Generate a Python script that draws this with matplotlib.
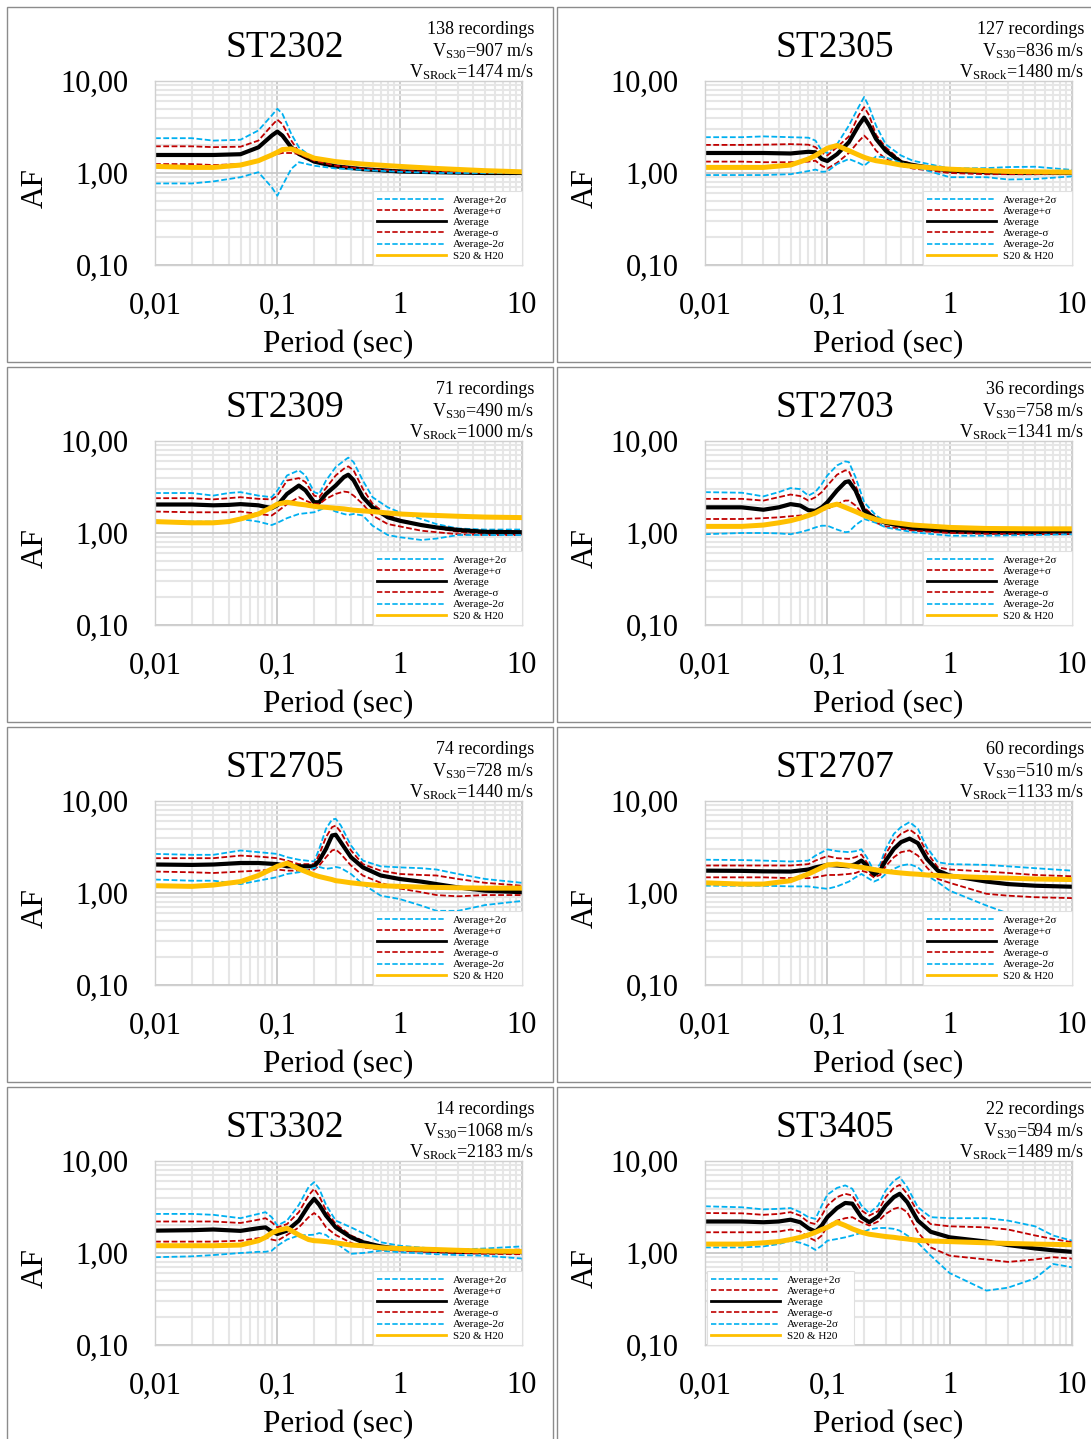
import numpy as np
import matplotlib.pyplot as plt
from matplotlib.patches import Rectangle
from matplotlib.lines import Line2D
from matplotlib.ticker import LogLocator, NullFormatter

plt.rcParams['font.family'] = ['Liberation Serif', 'DejaVu Serif']
plt.rcParams['mathtext.fontset'] = 'custom'
plt.rcParams['mathtext.rm'] = 'Liberation Serif'
plt.rcParams['mathtext.it'] = 'Liberation Serif:italic'

W, H = 1091, 1439

stations = ['ST2302', 'ST2305', 'ST2309', 'ST2703', 'ST2705', 'ST2707', 'ST3302', 'ST3405']
n_recordings = [138, 127, 71, 36, 74, 60, 14, 22]
vs30 = [907, 836, 490, 758, 728, 510, 1068, 594]
vsrock = [1474, 1480, 1000, 1341, 1440, 1133, 2183, 1489]

# ST2302
t_2302 = [0.01, 0.02, 0.03, 0.05, 0.07, 0.09, 0.1, 0.11, 0.13, 0.15, 0.2, 0.3, 0.5, 1, 2, 5, 10]
avg_2302 = [1.57, 1.57, 1.57, 1.60, 1.90, 2.55, 2.82, 2.55, 1.9, 1.61, 1.33, 1.18, 1.1, 1.04, 1.02, 1.0, 1.0]
p1_2302 = [1.95, 1.95, 1.91, 1.93, 2.25, 3.28, 3.8, 3.4, 2.25, 1.70, 1.36, 1.20, 1.11, 1.05, 1.03, 1.01, 1.01]
p2_2302 = [2.39, 2.39, 2.25, 2.30, 2.9, 4.22, 4.99, 4.4, 2.66, 1.9, 1.42, 1.22, 1.12, 1.06, 1.03, 1.02, 1.02]
m1_2302 = [1.25, 1.25, 1.22, 1.25, 1.36, 1.55, 1.61, 1.65, 1.65, 1.61, 1.36, 1.2, 1.11, 1.05, 1.03, 1.01, 1.0]
m2_2302 = [0.77, 0.77, 0.81, 0.90, 1.02, 0.70, 0.566, 0.73, 1.11, 1.31, 1.20, 1.12, 1.08, 1.03, 1.0, 1.0, 1.0]
s20_2302 = [1.18, 1.15, 1.15, 1.22, 1.36, 1.57, 1.68, 1.80, 1.83, 1.70, 1.45, 1.33, 1.25, 1.18, 1.12, 1.06, 1.03]

# ST2305
t_2305 = [0.01, 0.02, 0.03, 0.05, 0.07, 0.08, 0.09, 0.1, 0.12, 0.15, 0.18, 0.2, 0.22, 0.25, 0.3, 0.4, 0.5, 1, 2, 3, 5, 10]
avg_2305 = [1.65, 1.65, 1.65, 1.63, 1.70, 1.68, 1.42, 1.35, 1.60, 2.16, 3.28, 4.0, 3.28, 2.35, 1.75, 1.31, 1.22, 1.06, 1.02, 1.0, 1.0, 1.0]
p1_2305 = [2.02, 2.02, 2.03, 2.06, 2.03, 1.91, 1.66, 1.55, 1.91, 2.5, 4.22, 5.2, 4.22, 2.6, 1.9, 1.36, 1.25, 1.06, 1.02, 1.0, 0.99, 1.0]
p2_2305 = [2.45, 2.45, 2.5, 2.45, 2.42, 2.25, 1.75, 1.65, 2.05, 3.28, 5.2, 6.7, 5.2, 3.28, 2.05, 1.55, 1.36, 1.12, 1.13, 1.16, 1.17, 1.08]
m1_2305 = [1.33, 1.33, 1.31, 1.31, 1.33, 1.36, 1.2, 1.12, 1.29, 1.65, 2.2, 2.55, 2.25, 1.75, 1.42, 1.2, 1.12, 1.0, 0.97, 0.97, 0.97, 0.99]
m2_2305 = [0.95, 0.95, 0.95, 0.97, 1.05, 1.09, 1.03, 1.04, 1.25, 1.42, 1.29, 1.2, 1.33, 1.51, 1.48, 1.29, 1.18, 0.90, 0.90, 0.85, 0.86, 0.92]
s20_2305 = [1.15, 1.15, 1.15, 1.22, 1.42, 1.55, 1.71, 1.86, 1.99, 1.75, 1.57, 1.48, 1.42, 1.36, 1.31, 1.22, 1.18, 1.1, 1.06, 1.04, 1.03, 1.02]

# ST2309
t_2309 = [0.01, 0.02, 0.03, 0.04, 0.05, 0.07, 0.09, 0.1, 0.12, 0.15, 0.17, 0.2, 0.22, 0.25, 0.3, 0.35, 0.38, 0.42, 0.5, 0.6, 0.8, 1, 1.5, 2, 3, 5, 10]
avg_2309 = [2.04, 2.04, 2.0, 2.02, 2.06, 2.0, 1.86, 2.0, 2.66, 3.28, 2.9, 2.16, 2.16, 2.66, 3.28, 4.05, 4.3, 3.75, 2.45, 1.9, 1.48, 1.36, 1.22, 1.15, 1.08, 1.03, 1.02]
p1_2309 = [2.39, 2.39, 2.32, 2.39, 2.45, 2.35, 2.32, 2.55, 3.72, 3.95, 3.57, 2.55, 2.45, 3.08, 4.22, 5.0, 5.3, 4.8, 3.02, 2.08, 1.55, 1.4, 1.22, 1.13, 1.03, 0.98, 0.97]
p2_2309 = [2.72, 2.72, 2.55, 2.72, 2.78, 2.55, 2.45, 2.9, 4.22, 4.8, 4.22, 2.78, 2.66, 3.72, 5.2, 6.1, 6.6, 5.9, 3.72, 2.45, 1.9, 1.68, 1.42, 1.25, 1.12, 1.09, 1.09]
m1_2309 = [1.71, 1.68, 1.68, 1.68, 1.71, 1.61, 1.55, 1.71, 2.06, 2.45, 2.25, 2.06, 2.06, 2.35, 2.66, 2.82, 2.78, 2.55, 2.06, 1.55, 1.25, 1.18, 1.06, 1.02, 0.97, 0.95, 0.95]
m2_2309 = [1.36, 1.33, 1.33, 1.36, 1.42, 1.33, 1.22, 1.29, 1.45, 1.61, 1.64, 1.68, 1.77, 1.9, 1.71, 1.61, 1.57, 1.61, 1.55, 1.2, 0.95, 0.9, 0.84, 0.87, 0.95, 0.95, 0.95]
s20_2309 = [1.33, 1.29, 1.29, 1.33, 1.42, 1.61, 1.9, 2.06, 2.16, 2.06, 2.02, 1.95, 1.92, 1.9, 1.86, 1.83, 1.8, 1.77, 1.74, 1.71, 1.65, 1.61, 1.57, 1.55, 1.52, 1.49, 1.47]

# ST2703
t_2703 = [0.01, 0.02, 0.03, 0.04, 0.05, 0.06, 0.07, 0.08, 0.09, 0.1, 0.12, 0.14, 0.15, 0.17, 0.2, 0.25, 0.3, 0.5, 1, 2, 5, 10]
avg_2703 = [1.9, 1.9, 1.79, 1.9, 2.06, 1.99, 1.77, 1.74, 1.9, 2.16, 2.9, 3.57, 3.65, 2.9, 1.75, 1.42, 1.29, 1.12, 1.04, 1.02, 1.0, 1.0]
p1_2703 = [2.35, 2.35, 2.25, 2.45, 2.62, 2.52, 2.25, 2.45, 2.78, 3.28, 4.3, 4.8, 4.7, 3.28, 1.9, 1.45, 1.29, 1.1, 1.02, 0.99, 0.98, 0.98]
p2_2703 = [2.78, 2.74, 2.5, 2.78, 3.08, 3.0, 2.55, 2.8, 3.4, 4.22, 5.43, 6.0, 5.9, 4.05, 2.16, 1.55, 1.33, 1.12, 1.03, 1.0, 0.98, 0.98]
m1_2703 = [1.42, 1.42, 1.45, 1.48, 1.52, 1.55, 1.57, 1.65, 1.77, 1.83, 2.06, 2.25, 2.25, 1.99, 1.55, 1.29, 1.18, 1.06, 1.0, 0.98, 0.97, 0.98]
m2_2703 = [0.97, 1.0, 1.0, 0.99, 0.97, 1.02, 1.08, 1.15, 1.2, 1.2, 1.09, 1.02, 1.03, 1.22, 1.42, 1.29, 1.15, 1.02, 0.935, 0.935, 0.95, 0.97]
s20_2703 = [1.18, 1.18, 1.22, 1.29, 1.36, 1.45, 1.55, 1.65, 1.8, 1.94, 2.06, 1.9, 1.83, 1.71, 1.55, 1.4, 1.33, 1.22, 1.15, 1.12, 1.11, 1.11]

# ST2705
t_2705 = [0.01, 0.02, 0.03, 0.05, 0.07, 0.1, 0.12, 0.15, 0.2, 0.22, 0.25, 0.28, 0.3, 0.33, 0.4, 0.5, 0.7, 1, 1.5, 2, 3, 5, 10]
avg_2705 = [2.04, 2.02, 2.04, 2.12, 2.12, 2.06, 1.95, 1.95, 1.95, 2.25, 3.02, 4.22, 4.3, 3.57, 2.45, 1.9, 1.55, 1.42, 1.33, 1.25, 1.15, 1.06, 1.02]
p1_2705 = [2.39, 2.39, 2.39, 2.55, 2.49, 2.39, 2.25, 2.06, 2.06, 2.62, 4.05, 5.2, 5.4, 4.6, 2.9, 2.06, 1.75, 1.61, 1.57, 1.55, 1.42, 1.29, 1.2]
p2_2705 = [2.66, 2.6, 2.6, 2.9, 2.78, 2.66, 2.45, 2.3, 2.2, 3.02, 4.99, 6.3, 6.4, 5.43, 3.28, 2.25, 1.95, 1.9, 1.86, 1.8, 1.61, 1.42, 1.29]
m1_2705 = [1.71, 1.68, 1.65, 1.71, 1.75, 1.8, 1.75, 1.75, 1.8, 1.99, 2.45, 2.9, 2.98, 2.66, 1.99, 1.55, 1.29, 1.12, 1.02, 0.95, 0.92, 0.95, 0.95]
m2_2705 = [1.4, 1.36, 1.36, 1.25, 1.36, 1.49, 1.61, 1.68, 1.87, 1.92, 1.83, 1.87, 1.92, 1.87, 1.61, 1.25, 0.935, 0.86, 0.73, 0.64, 0.64, 0.74, 0.82]
s20_2705 = [1.2, 1.18, 1.22, 1.33, 1.55, 1.95, 2.11, 1.83, 1.57, 1.51, 1.45, 1.4, 1.36, 1.34, 1.29, 1.25, 1.2, 1.18, 1.16, 1.15, 1.14, 1.13, 1.13]

# ST2707
t_2707 = [0.01, 0.02, 0.03, 0.05, 0.07, 0.08, 0.1, 0.12, 0.15, 0.17, 0.19, 0.21, 0.24, 0.27, 0.3, 0.35, 0.4, 0.47, 0.55, 0.65, 0.8, 1, 2, 3, 5, 10]
avg_2707 = [1.75, 1.74, 1.72, 1.71, 1.8, 1.9, 2.02, 1.99, 1.95, 2.06, 2.25, 1.99, 1.57, 1.75, 2.25, 3.02, 3.57, 3.9, 3.48, 2.35, 1.75, 1.55, 1.33, 1.25, 1.2, 1.17]
p1_2707 = [1.99, 1.99, 1.99, 1.99, 2.06, 2.25, 2.52, 2.39, 2.35, 2.45, 2.62, 2.16, 1.65, 1.9, 2.66, 3.72, 4.4, 4.9, 4.22, 2.78, 1.9, 1.8, 1.71, 1.65, 1.57, 1.52]
p2_2707 = [2.3, 2.28, 2.25, 2.2, 2.25, 2.55, 2.98, 2.85, 2.78, 2.85, 2.98, 2.45, 1.75, 2.06, 3.02, 4.4, 5.2, 5.9, 4.99, 3.14, 2.16, 2.06, 2.02, 1.95, 1.86, 1.75]
m1_2707 = [1.48, 1.48, 1.48, 1.45, 1.45, 1.48, 1.57, 1.57, 1.61, 1.65, 1.75, 1.68, 1.48, 1.57, 1.95, 2.45, 2.78, 2.9, 2.55, 1.9, 1.42, 1.29, 0.98, 0.935, 0.9, 0.88]
m2_2707 = [1.2, 1.2, 1.2, 1.18, 1.18, 1.15, 1.11, 1.18, 1.33, 1.48, 1.61, 1.48, 1.33, 1.42, 1.61, 1.83, 1.99, 2.06, 1.9, 1.55, 1.31, 1.06, 0.73, 0.6, 0.59, 0.6]
s20_2707 = [1.29, 1.25, 1.25, 1.36, 1.61, 1.75, 2.02, 2.06, 1.99, 1.94, 1.9, 1.86, 1.8, 1.75, 1.72, 1.68, 1.65, 1.62, 1.6, 1.57, 1.55, 1.52, 1.47, 1.45, 1.42, 1.4]

# ST3302
t_3302 = [0.01, 0.02, 0.03, 0.05, 0.07, 0.08, 0.09, 0.1, 0.12, 0.15, 0.18, 0.2, 0.22, 0.25, 0.3, 0.4, 0.5, 0.7, 1, 2, 3, 5, 10]
avg_3302 = [1.75, 1.77, 1.8, 1.74, 1.86, 1.9, 1.71, 1.61, 1.75, 2.25, 3.28, 3.88, 3.34, 2.55, 1.9, 1.48, 1.31, 1.18, 1.11, 1.05, 1.03, 1.02, 1.02]
p1_3302 = [2.2, 2.2, 2.2, 2.12, 2.3, 2.39, 2.16, 1.9, 2.06, 2.78, 4.22, 4.99, 4.15, 2.9, 2.06, 1.55, 1.36, 1.18, 1.11, 1.06, 1.03, 1.06, 1.09]
p2_3302 = [2.66, 2.66, 2.6, 2.39, 2.66, 2.78, 2.45, 1.99, 2.25, 3.34, 5.2, 5.9, 4.99, 3.34, 2.25, 1.9, 1.65, 1.31, 1.2, 1.11, 1.09, 1.12, 1.18]
m1_3302 = [1.33, 1.33, 1.33, 1.36, 1.45, 1.48, 1.4, 1.36, 1.57, 1.9, 2.45, 2.72, 2.45, 1.9, 1.57, 1.29, 1.15, 1.09, 1.06, 1.02, 1.0, 0.98, 0.97]
m2_3302 = [0.9, 0.92, 0.95, 1.0, 1.03, 1.03, 1.06, 1.2, 1.4, 1.55, 1.57, 1.58, 1.65, 1.57, 1.29, 0.98, 1.0, 1.06, 1.02, 0.97, 0.95, 0.935, 0.87]
s20_3302 = [1.2, 1.2, 1.2, 1.22, 1.36, 1.48, 1.65, 1.75, 1.86, 1.57, 1.4, 1.36, 1.35, 1.33, 1.29, 1.22, 1.2, 1.14, 1.12, 1.09, 1.07, 1.05, 1.04]

# ST3405
t_3405 = [0.01, 0.02, 0.03, 0.04, 0.05, 0.06, 0.07, 0.08, 0.09, 0.1, 0.12, 0.14, 0.16, 0.19, 0.22, 0.26, 0.3, 0.35, 0.39, 0.45, 0.55, 0.7, 1, 2, 3, 5, 7, 10]
avg_3405 = [2.2, 2.2, 2.16, 2.2, 2.3, 2.16, 1.86, 1.71, 1.99, 2.45, 3.08, 3.5, 3.44, 2.45, 2.16, 2.51, 3.28, 4.05, 4.4, 3.57, 2.25, 1.7, 1.48, 1.33, 1.22, 1.12, 1.07, 1.03]
p1_3405 = [2.72, 2.7, 2.6, 2.66, 2.78, 2.55, 2.16, 2.06, 2.55, 3.28, 4.05, 4.4, 4.22, 2.9, 2.55, 2.85, 4.05, 5.1, 5.5, 4.4, 2.78, 2.06, 1.95, 1.9, 1.8, 1.55, 1.42, 1.31]
p2_3405 = [3.22, 3.14, 2.98, 3.02, 3.08, 2.78, 2.45, 2.35, 3.28, 4.3, 5.1, 5.43, 4.99, 3.28, 2.72, 3.28, 4.8, 6.1, 6.7, 5.2, 3.14, 2.45, 2.39, 2.39, 2.25, 1.95, 1.55, 1.36]
m1_3405 = [1.68, 1.68, 1.68, 1.71, 1.8, 1.72, 1.48, 1.36, 1.55, 1.95, 2.25, 2.39, 2.45, 2.16, 1.99, 2.2, 2.66, 3.02, 3.14, 2.78, 1.68, 1.15, 0.935, 0.85, 0.8, 0.85, 0.9, 0.87]
m2_3405 = [1.15, 1.15, 1.18, 1.25, 1.36, 1.29, 1.2, 1.08, 1.2, 1.36, 1.42, 1.48, 1.55, 1.66, 1.8, 1.87, 1.87, 1.83, 1.75, 1.55, 1.29, 0.935, 0.605, 0.39, 0.42, 0.53, 0.76, 0.7]
s20_3405 = [1.25, 1.25, 1.29, 1.33, 1.4, 1.48, 1.57, 1.68, 1.8, 1.9, 2.16, 1.99, 1.83, 1.68, 1.6, 1.55, 1.51, 1.48, 1.45, 1.42, 1.37, 1.35, 1.33, 1.29, 1.27, 1.25, 1.24, 1.23]

periods = [t_2302, t_2305, t_2309, t_2703, t_2705, t_2707, t_3302, t_3405]
avg = [avg_2302, avg_2305, avg_2309, avg_2703, avg_2705, avg_2707, avg_3302, avg_3405]
plus1 = [p1_2302, p1_2305, p1_2309, p1_2703, p1_2705, p1_2707, p1_3302, p1_3405]
plus2 = [p2_2302, p2_2305, p2_2309, p2_2703, p2_2705, p2_2707, p2_3302, p2_3405]
minus1 = [m1_2302, m1_2305, m1_2309, m1_2703, m1_2705, m1_2707, m1_3302, m1_3405]
minus2 = [m2_2302, m2_2305, m2_2309, m2_2703, m2_2705, m2_2707, m2_3302, m2_3405]
s20h20 = [s20_2302, s20_2305, s20_2309, s20_2703, s20_2705, s20_2707, s20_3302, s20_3405]

CYAN = '#00B0F0'
RED = '#C00000'
GOLD = '#FFC000'
DASH = (3.2, 1.4)


def fx(px):
    return px / W


def fy(py):
    return 1 - py / H


fig = plt.figure(figsize=(W / 100, H / 100), dpi=100)

for i, name in enumerate(stations):
    row, col = divmod(i, 2)
    dx = col * 550
    dy = row * 360

    # panel frame
    fig.add_artist(Rectangle((fx(7 + dx), fy(362 + dy)), 546 / W, 355 / H,
                             transform=fig.transFigure, fill=False,
                             edgecolor='#8c8c8c', lw=1.0))

    ax = fig.add_axes([fx(155 + dx), fy(265 + dy), 367 / W, 184 / H])
    ax.set_xscale('log')
    ax.set_yscale('log')

    t = periods[i]
    ax.plot(t, plus2[i], color=CYAN, lw=1.3, dashes=DASH)
    ax.plot(t, plus1[i], color=RED, lw=1.3, dashes=DASH)
    ax.plot(t, avg[i], color='black', lw=3.0, solid_joinstyle='round')
    ax.plot(t, minus1[i], color=RED, lw=1.3, dashes=DASH)
    ax.plot(t, minus2[i], color=CYAN, lw=1.3, dashes=DASH)
    ax.plot(t, s20h20[i], color=GOLD, lw=3.6, solid_joinstyle='round')

    ax.set_xlim(0.01, 10)
    ax.set_ylim(0.1, 10)
    ax.set_xticks([0.01, 0.1, 1, 10], ['0,01', '0,1', '1', '10'])
    ax.set_yticks([0.1, 1, 10], ['0,10', '1,00', '10,00'])
    ax.xaxis.set_minor_locator(LogLocator(base=10, subs=np.arange(2, 10), numticks=20))
    ax.yaxis.set_minor_locator(LogLocator(base=10, subs=np.arange(2, 10), numticks=20))
    ax.xaxis.set_minor_formatter(NullFormatter())
    ax.yaxis.set_minor_formatter(NullFormatter())
    ax.tick_params(which='both', length=0)
    ax.tick_params(axis='x', labelsize=22, pad=19)
    ax.tick_params(axis='y', labelsize=22, pad=19)
    ax.grid(which='major', color='#c8c8c8', lw=1.3)
    ax.grid(which='minor', color='#e6e6e6', lw=1.5)
    ax.set_axisbelow(True)
    for sp in ax.spines.values():
        sp.set_color('#d0d0d0')
        sp.set_linewidth(1.0)

    handles = [
        Line2D([], [], color=CYAN, lw=1.2, dashes=DASH),
        Line2D([], [], color=RED, lw=1.2, dashes=DASH),
        Line2D([], [], color='black', lw=2.0),
        Line2D([], [], color=RED, lw=1.2, dashes=DASH),
        Line2D([], [], color=CYAN, lw=1.2, dashes=DASH),
        Line2D([], [], color=GOLD, lw=2.0),
    ]
    labels = ['Average+2σ', 'Average+σ', 'Average', 'Average-σ', 'Average-2σ', 'S20 & H20']
    if name == 'ST3405':
        anchor = (0.005, 0.0, 0.40, 0.5)
    else:
        anchor = (0.594, 0.0, 0.406, 0.5)
    leg = ax.legend(handles, labels, loc='lower left', bbox_to_anchor=anchor,
                    mode='expand', fontsize=8, handlelength=6.2,
                    handletextpad=0.6, labelspacing=0.12, borderpad=0.4,
                    borderaxespad=0.0, fancybox=False, framealpha=1.0)
    leg.get_frame().set_edgecolor('#e0e0e0')
    leg.get_frame().set_linewidth(0.8)

    fig.text(fx(285 + dx), fy(48 + dy), name, fontsize=27, ha='center', va='center')
    fig.text(fx(35 + dx), fy(188 + dy), 'AF', fontsize=22.5, rotation=90,
             ha='center', va='center')
    fig.text(fx(338 + dx), fy(345 + dy), 'Period (sec)', fontsize=22.5,
             ha='center', va='center')
    fig.text(fx(534 + dx), fy(29 + dy), f'{n_recordings[i]} recordings', fontsize=13,
             ha='right', va='center')
    fig.text(fx(534 + dx), fy(51 + dy), r'V$_{\mathrm{S30}}$=' + f'{vs30[i]} m/s',
             fontsize=13, ha='right', va='center')
    fig.text(fx(534 + dx), fy(72 + dy), r'V$_{\mathrm{SRock}}$=' + f'{vsrock[i]} m/s',
             fontsize=13, ha='right', va='center')

fig.savefig('out.png', dpi=100)
